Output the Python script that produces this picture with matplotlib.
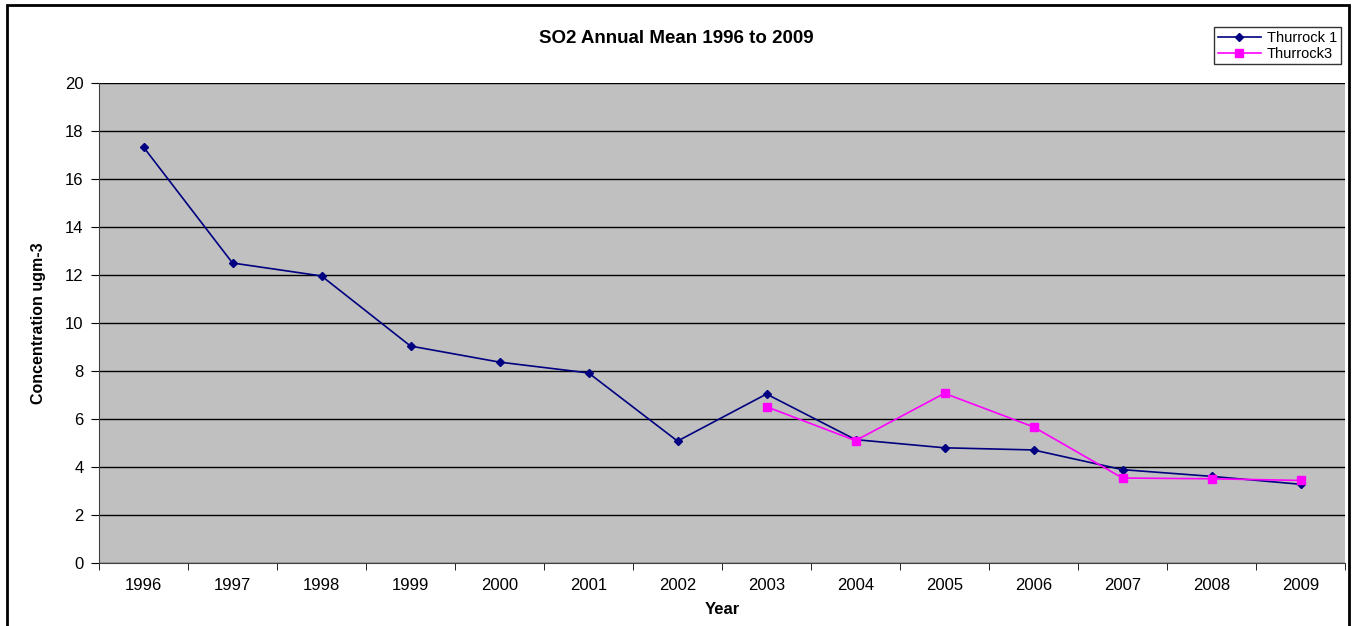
import numpy as np
import matplotlib
matplotlib.use("Agg")
import matplotlib.pyplot as plt
from matplotlib.patches import Rectangle

plt.rcParams['font.family'] = ['Liberation Sans', 'DejaVu Sans']

# Datos
years = ['1996', '1997', '1998', '1999', '2000', '2001', '2002',
         '2003', '2004', '2005', '2006', '2007', '2008', '2009']
thurrock1 = [17.33, 12.5, 11.96, 9.04, 8.37, 7.92, 5.08,
             7.04, 5.14, 4.80, 4.71, 3.89, 3.61, 3.28]
thurrock3 = [np.nan] * 7 + [6.51, 5.10, 7.07, 5.67, 3.54, 3.51, 3.44]

fig = plt.figure(figsize=(13.53, 6.26), dpi=100)
ax = fig.add_axes([99 / 1353, 1 - 563 / 626, (1345 - 99) / 1353, (563 - 83) / 626])
ax.set_facecolor('#C0C0C0')

x = np.arange(1, len(years) + 1)
ax.plot(x, thurrock1, color='#000080', lw=1.2, marker='D', ms=4.5, label='Thurrock 1')
ax.plot(x, thurrock3, color='#FF00FF', lw=1.2, marker='s', ms=6, label='Thurrock3')

ax.set_xlim(0.5, len(years) + 0.5)
ax.set_ylim(0, 20)
ax.set_yticks(np.arange(0, 21, 2))
ax.yaxis.grid(True, color='black', lw=1)
ax.set_axisbelow(True)

ax.set_xticks(x)
ax.set_xticklabels(years)
ax.set_xticks(np.arange(0.5, len(years) + 1, 1), minor=True)
ax.tick_params(axis='x', which='major', length=0, pad=11, labelsize=12)
ax.tick_params(axis='x', which='minor', length=5, direction='out', color='black')
ax.tick_params(axis='y', length=6, direction='out', labelsize=12, pad=5)

for s in ['top', 'right']:
    ax.spines[s].set_visible(False)
ax.spines['left'].set_color('#404040')
ax.spines['bottom'].set_color('#404040')

ax.set_xlabel('Year', fontweight='bold', fontsize=12, labelpad=6)
ax.set_ylabel('Concentration ugm-3', fontweight='bold', fontsize=11.5, labelpad=14)
fig.text(0.5, 0.939, 'SO2 Annual Mean 1996 to 2009', ha='center', va='center',
         fontweight='bold', fontsize=13.5)

leg = fig.legend(loc='upper right', bbox_to_anchor=(1341 / 1353, 1 - 27 / 626),
                 fontsize=10.5, frameon=True, fancybox=False, edgecolor='black',
                 borderpad=0.25, handlelength=3, labelspacing=0.15, handletextpad=0.4,
                 borderaxespad=0)
leg.get_frame().set_linewidth(1)

fig.patches.append(Rectangle((7 / 1353, -0.02), (1349 - 7) / 1353, 1.02 - 5 / 626,
                             transform=fig.transFigure, fill=False, ec='black', lw=2))

fig.savefig('out.png', dpi=100)
